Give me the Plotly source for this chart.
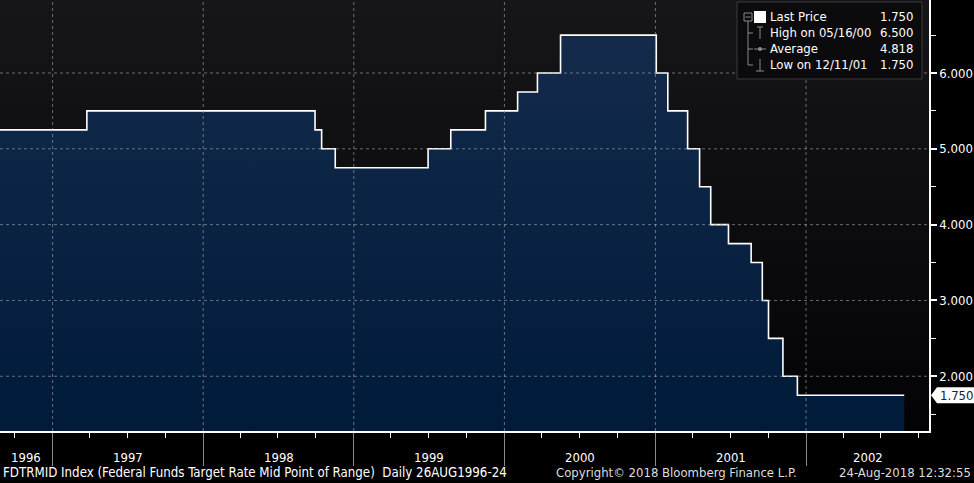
import pandas as pd
import plotly.graph_objects as go

# Fed funds target rate (mid point), step changes
change_dates = ["1996-08-26", "1997-03-25", "1998-09-29", "1998-10-15", "1998-11-17",
                "1999-06-30", "1999-08-24", "1999-11-16", "2000-02-02", "2000-03-21",
                "2000-05-16", "2001-01-03", "2001-01-31", "2001-03-20", "2001-04-18",
                "2001-05-15", "2001-06-27", "2001-08-21", "2001-09-17", "2001-10-02",
                "2001-11-06", "2001-12-11", "2002-08-27"]
rates = [5.25, 5.50, 5.25, 5.00, 4.75,
         5.00, 5.25, 5.50, 5.75, 6.00,
         6.50, 6.00, 5.50, 5.00, 4.50,
         4.00, 3.75, 3.50, 3.00, 2.50,
         2.00, 1.75, 1.75]

years = [1996, 1997, 1998, 1999, 2000, 2001, 2002]
y_ticks = [2, 3, 4, 5, 6]
avg_label = "4.818"
x_start = "1996-08-26 12:00"
x_end = "2002-10-26"
y_lo, y_hi = 1.278, 6.963

FONT = "DejaVu Sans Condensed, DejaVu Sans, sans-serif"
GRID = "rgba(170,170,170,0.6)"

dates = pd.to_datetime(change_dates)
hi_i = rates.index(max(rates))
lo_i = rates.index(min(rates))

fig = go.Figure()

# plot background gradient
fig.add_trace(go.Scatter(
    x=[x_start, x_end], y=[y_hi + 1, y_hi + 1], mode="lines", line=dict(width=0),
    fill="tozeroy", hoverinfo="skip", showlegend=False,
    fillgradient=dict(type="vertical", start=y_lo, stop=y_hi,
                      colorscale=[[0, "#030306"], [1, "#161619"]])))

# the rate itself
fig.add_trace(go.Scatter(
    x=dates, y=rates, mode="lines", line=dict(color="white", width=1.6, shape="hv"),
    fill="tozeroy", showlegend=False,
    fillgradient=dict(type="vertical", start=y_lo, stop=6.6,
                      colorscale=[[0, "#001a3a"], [1, "#142b4b"]])))

px_w, px_h = 929.0, 431.0


def px(x):
    return x / px_w


def py(y):
    return 1 - y / px_h


shapes = []
annotations = []

# dashed grid drawn on top of the fills
for yr in years[1:]:
    shapes.append(dict(type="line", xref="x", yref="paper", x0="%d-01-01" % yr, x1="%d-01-01" % yr,
                       y0=0, y1=1, layer="above", line=dict(color=GRID, width=1, dash="dot")))
for v in y_ticks:
    shapes.append(dict(type="line", xref="paper", yref="y", x0=0, x1=1, y0=v, y1=v,
                       layer="above", line=dict(color=GRID, width=1, dash="dot")))

# legend box
shapes.append(dict(type="rect", xref="paper", yref="paper", x0=px(737), x1=px(922),
                   y0=py(79), y1=py(2), fillcolor="#0b0b0d", line=dict(color="#3a3a3c", width=1)))
ic = dict(color="#8a8a8a", width=1)
shapes += [
    dict(type="rect", xref="paper", yref="paper", x0=px(744), x1=px(752), y0=py(21), y1=py(13), line=ic),
    dict(type="line", xref="paper", yref="paper", x0=px(745.5), x1=px(750.5), y0=py(17), y1=py(17), line=ic),
    dict(type="line", xref="paper", yref="paper", x0=px(748), x1=px(748), y0=py(21), y1=py(65), line=ic),
    dict(type="line", xref="paper", yref="paper", x0=px(748), x1=px(753), y0=py(33), y1=py(33), line=ic),
    dict(type="line", xref="paper", yref="paper", x0=px(748), x1=px(753), y0=py(49), y1=py(49), line=ic),
    dict(type="line", xref="paper", yref="paper", x0=px(748), x1=px(753), y0=py(65), y1=py(65), line=ic),
    dict(type="rect", xref="paper", yref="paper", x0=px(754), x1=px(766), y0=py(23), y1=py(11),
         fillcolor="white", line=dict(width=0)),
    # high
    dict(type="line", xref="paper", yref="paper", x0=px(757), x1=px(763), y0=py(27), y1=py(27), line=ic),
    dict(type="line", xref="paper", yref="paper", x0=px(760), x1=px(760), y0=py(27), y1=py(39), line=ic),
    # average
    dict(type="line", xref="paper", yref="paper", x0=px(754), x1=px(766), y0=py(49), y1=py(49), line=ic),
    dict(type="circle", xref="paper", yref="paper", x0=px(758), x1=px(762), y0=py(51), y1=py(47),
         fillcolor="#8a8a8a", line=dict(width=0)),
    # low
    dict(type="line", xref="paper", yref="paper", x0=px(760), x1=px(760), y0=py(59), y1=py(71), line=ic),
    dict(type="line", xref="paper", yref="paper", x0=px(756), x1=px(764), y0=py(71), y1=py(71), line=ic),
]

leg_labels = ["Last Price",
              "High on " + dates[hi_i].strftime("%m/%d/%y"),
              "Average",
              "Low on " + dates[lo_i].strftime("%m/%d/%y")]
leg_values = ["%.3f" % rates[-1], "%.3f" % rates[hi_i], avg_label, "%.3f" % rates[lo_i]]
for i, (lab, val) in enumerate(zip(leg_labels, leg_values)):
    yy = py(17 + 16 * i)
    annotations.append(dict(xref="paper", yref="paper", x=px(768), y=yy, text=lab, showarrow=False,
                            xanchor="left", yanchor="middle", font=dict(color="white", size=13, family=FONT)))
    annotations.append(dict(xref="paper", yref="paper", x=px(915), y=yy, text=val, showarrow=False,
                            xanchor="right", yanchor="middle", font=dict(color="white", size=13, family=FONT)))

# last price tag on the right axis
shapes.append(dict(type="path", xref="paper", yref="y",
                   path="M %f,%f L %f,%f L %f,%f L %f,%f L %f,%f Z" % (
                       px(931), rates[-1], px(937), rates[-1] + 0.105, px(974), rates[-1] + 0.105,
                       px(974), rates[-1] - 0.105, px(937), rates[-1] - 0.105),
                   fillcolor="white", line=dict(width=0)))
annotations.append(dict(xref="paper", yref="y", x=px(956), y=rates[-1], text="%.3f" % rates[-1],
                        showarrow=False, xanchor="center", yanchor="middle",
                        font=dict(color="#0a2240", size=13, family=FONT)))

# year labels centred on the visible part of each year
xs, xe = pd.Timestamp(x_start), pd.Timestamp(x_end)
for yr in years:
    a = max(pd.Timestamp(yr, 1, 1), xs)
    b = min(pd.Timestamp(yr + 1, 1, 1), xe)
    annotations.append(dict(xref="x", yref="paper", x=a + (b - a) / 2, y=py(457), text=str(yr),
                            showarrow=False, yanchor="middle", font=dict(color="white", size=13, family=FONT)))

# footer
foot = dict(xref="paper", yref="paper", y=py(472), showarrow=False, yanchor="middle")
annotations.append(dict(foot, x=px(1), xanchor="left",
                        text="FDTRMID Index (Federal Funds Target Rate Mid Point of Range)  Daily 26AUG1996-24",
                        font=dict(color="white", size=13.2, family=FONT)))
annotations.append(dict(foot, x=px(554), xanchor="left", text="Copyright© 2018 Bloomberg Finance L.P.",
                        font=dict(color="#dddddd", size=13, family=FONT)))
annotations.append(dict(foot, x=px(973), xanchor="right", text="24-Aug-2018 12:32:55",
                        font=dict(color="#dddddd", size=13, family=FONT)))

fig.update_layout(
    width=974, height=483,
    margin=dict(l=0, r=45, t=0, b=52),
    paper_bgcolor="black", plot_bgcolor="#0c0c0f",
    showlegend=False, shapes=shapes, annotations=annotations,
    xaxis=dict(type="date", range=[x_start, x_end], tick0="1997-01-01", dtick="M12",
               ticks="outside", ticklen=33, tickcolor="#8a8a8a", tickwidth=1, showticklabels=False,
               showgrid=False, showline=True, linecolor="white", linewidth=1.5, zeroline=False,
               layer="above traces",
               minor=dict(tick0="1996-10-01", dtick="M3", ticks="outside", ticklen=5,
                          tickcolor="white", tickwidth=1, showgrid=False)),
    yaxis=dict(side="right", range=[y_lo, y_hi], tickmode="array", tickvals=y_ticks, tickformat=".3f",
               ticks="outside", ticklen=6, tickcolor="white", tickwidth=1.5,
               tickfont=dict(color="white", size=13, family=FONT),
               showgrid=False, showline=True, linecolor="white", linewidth=1.5, zeroline=False,
               layer="above traces",
               minor=dict(dtick=0.5, tick0=0.5, ticks="outside", ticklen=5,
                          tickcolor="white", tickwidth=1, showgrid=False)),
)

# page has a default body margin; drop it so the figure sits at the window corner
fig.write_html("out.html", config={"displayModeBar": False},
               post_script="document.body.style.margin='0';")
